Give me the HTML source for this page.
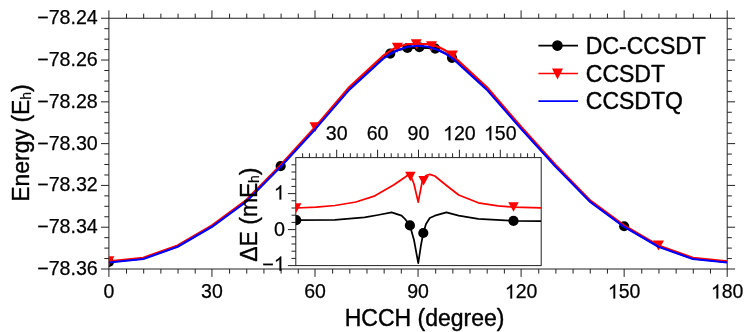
<!DOCTYPE html>
<html><head><meta charset="utf-8"><title>chart</title>
<style>html,body{margin:0;padding:0;background:#fff;}body{width:747px;height:332px;position:relative;overflow:hidden;font-family:"Liberation Sans",sans-serif;}</style>
</head><body>
<svg width="747" height="332" viewBox="0 0 747 332" style="position:absolute;left:0;top:0;will-change:transform">
<defs><clipPath id="cm"><rect x="108.90" y="18.25" width="618.30" height="250.75"/></clipPath>
<clipPath id="ci"><rect x="295.80" y="157.60" width="245.40" height="108.00"/></clipPath></defs>
<g stroke="#222" stroke-width="1" fill="none">
<rect x="108.90" y="18.25" width="618.30" height="250.75"/>
<path d="M108.90 269.00v7.90M108.90 18.25v-7.90M126.53 269.00v4.60M126.53 18.25v-4.60M143.70 269.00v4.60M143.70 18.25v-4.60M160.88 269.00v4.60M160.88 18.25v-4.60M178.05 269.00v4.60M178.05 18.25v-4.60M195.23 269.00v4.60M195.23 18.25v-4.60M211.95 269.00v7.90M211.95 18.25v-7.90M229.58 269.00v4.60M229.58 18.25v-4.60M246.75 269.00v4.60M246.75 18.25v-4.60M263.93 269.00v4.60M263.93 18.25v-4.60M281.10 269.00v4.60M281.10 18.25v-4.60M298.28 269.00v4.60M298.28 18.25v-4.60M315.00 269.00v7.90M315.00 18.25v-7.90M332.63 269.00v4.60M332.63 18.25v-4.60M349.80 269.00v4.60M349.80 18.25v-4.60M366.98 269.00v4.60M366.98 18.25v-4.60M384.15 269.00v4.60M384.15 18.25v-4.60M401.32 269.00v4.60M401.32 18.25v-4.60M418.05 269.00v7.90M418.05 18.25v-7.90M435.68 269.00v4.60M435.68 18.25v-4.60M452.85 269.00v4.60M452.85 18.25v-4.60M470.03 269.00v4.60M470.03 18.25v-4.60M487.20 269.00v4.60M487.20 18.25v-4.60M504.38 269.00v4.60M504.38 18.25v-4.60M521.10 269.00v7.90M521.10 18.25v-7.90M538.73 269.00v4.60M538.73 18.25v-4.60M555.90 269.00v4.60M555.90 18.25v-4.60M573.08 269.00v4.60M573.08 18.25v-4.60M590.25 269.00v4.60M590.25 18.25v-4.60M607.43 269.00v4.60M607.43 18.25v-4.60M624.15 269.00v7.90M624.15 18.25v-7.90M641.78 269.00v4.60M641.78 18.25v-4.60M658.95 269.00v4.60M658.95 18.25v-4.60M676.13 269.00v4.60M676.13 18.25v-4.60M693.30 269.00v4.60M693.30 18.25v-4.60M710.48 269.00v4.60M710.48 18.25v-4.60M727.20 269.00v7.90M727.20 18.25v-7.90M108.90 18.25h-7.90M727.20 18.25h7.90M108.90 28.70h-4.60M727.20 28.70h4.60M108.90 39.15h-4.60M727.20 39.15h4.60M108.90 49.59h-4.60M727.20 49.59h4.60M108.90 60.04h-7.90M727.20 60.04h7.90M108.90 70.49h-4.60M727.20 70.49h4.60M108.90 80.94h-4.60M727.20 80.94h4.60M108.90 91.39h-4.60M727.20 91.39h4.60M108.90 101.83h-7.90M727.20 101.83h7.90M108.90 112.28h-4.60M727.20 112.28h4.60M108.90 122.73h-4.60M727.20 122.73h4.60M108.90 133.18h-4.60M727.20 133.18h4.60M108.90 143.62h-7.90M727.20 143.62h7.90M108.90 154.07h-4.60M727.20 154.07h4.60M108.90 164.52h-4.60M727.20 164.52h4.60M108.90 174.97h-4.60M727.20 174.97h4.60M108.90 185.42h-7.90M727.20 185.42h7.90M108.90 195.86h-4.60M727.20 195.86h4.60M108.90 206.31h-4.60M727.20 206.31h4.60M108.90 216.76h-4.60M727.20 216.76h4.60M108.90 227.21h-7.90M727.20 227.21h7.90M108.90 237.66h-4.60M727.20 237.66h4.60M108.90 248.10h-4.60M727.20 248.10h4.60M108.90 258.55h-4.60M727.20 258.55h4.60M108.90 269.00h-7.90M727.20 269.00h7.90"/>
</g>
<g clip-path="url(#cm)" fill="none" stroke-linejoin="round">
<path d="M108.90 261.99L143.25 258.48L177.60 246.27L211.95 226.26L246.30 200.98L280.65 166.11L315.00 128.57L349.35 88.64L383.70 57.61L390.57 53.39L397.44 50.20L407.75 47.84L418.05 47.56L428.36 47.84L438.66 50.20L445.53 53.39L452.40 57.61L486.75 88.64L521.10 128.07L555.45 165.81L589.80 200.98L624.15 226.26L658.50 246.27L692.85 258.48L727.20 261.99" stroke="#000" stroke-width="2.15"/>
<circle cx="108.90" cy="261.99" r="5.10" fill="#000"/>
<circle cx="280.65" cy="166.11" r="5.10" fill="#000"/>
<circle cx="624.15" cy="226.26" r="5.10" fill="#000"/>
<circle cx="390.20" cy="53.60" r="5.10" fill="#000"/>
<circle cx="407.45" cy="48.00" r="5.10" fill="#000"/>
<circle cx="419.40" cy="47.25" r="5.10" fill="#000"/>
<circle cx="435.20" cy="48.60" r="5.10" fill="#000"/>
<circle cx="452.00" cy="57.85" r="5.10" fill="#000"/>
<path d="M108.90 261.25L143.25 257.73L177.60 245.48L211.95 225.40L246.30 200.05L280.65 165.02L315.00 127.31L349.35 87.05L383.70 55.27L390.57 50.57L397.44 46.96L407.75 44.08L418.05 44.03L428.36 44.08L438.66 46.96L445.53 50.57L452.40 55.27L486.75 87.05L521.10 126.81L555.45 164.72L589.80 200.05L624.15 225.40L658.50 245.48L692.85 257.73L727.20 261.25" stroke="#ff0000" stroke-width="2.15"/>
<path d="M103.40 256.25h11.00l-5.50 10.00z" fill="#ff0000" stroke="none"/>
<path d="M309.50 122.31h11.00l-5.50 10.00z" fill="#ff0000" stroke="none"/>
<path d="M653.00 240.48h11.00l-5.50 10.00z" fill="#ff0000" stroke="none"/>
<path d="M391.90 42.80h11.00l-5.50 10.00z" fill="#ff0000" stroke="none"/>
<path d="M410.80 39.30h11.00l-5.50 10.00z" fill="#ff0000" stroke="none"/>
<path d="M426.00 41.20h11.00l-5.50 10.00z" fill="#ff0000" stroke="none"/>
<path d="M446.90 50.60h11.00l-5.50 10.00z" fill="#ff0000" stroke="none"/>
<path d="M108.90 262.50L143.25 259.00L177.60 246.80L211.95 226.80L246.30 201.60L280.65 166.80L315.00 129.40L349.35 89.60L383.70 58.30L390.57 53.70L397.44 50.20L407.75 46.80L418.05 45.70L428.36 46.80L438.66 50.20L445.53 53.70L452.40 58.30L486.75 89.60L521.10 128.90L555.45 166.50L589.80 201.60L624.15 226.80L658.50 246.80L692.85 259.00L727.20 262.50" stroke="#0000ff" stroke-width="2.15"/>
</g>
<rect x="295.80" y="157.60" width="245.40" height="108.00" fill="#fff" stroke="none"/>
<g stroke="#222" stroke-width="1" fill="none">
<rect x="295.80" y="157.60" width="245.40" height="108.00"/>
<path d="M302.62 157.60v-4.30M309.43 157.60v-4.30M316.25 157.60v-4.30M323.07 157.60v-4.30M329.88 157.60v-4.30M336.70 157.60v-7.90M343.52 157.60v-4.30M350.33 157.60v-4.30M357.15 157.60v-4.30M363.97 157.60v-4.30M370.78 157.60v-4.30M377.60 157.60v-7.90M384.42 157.60v-4.30M391.23 157.60v-4.30M398.05 157.60v-4.30M404.87 157.60v-4.30M411.68 157.60v-4.30M418.50 157.60v-7.90M425.32 157.60v-4.30M432.13 157.60v-4.30M438.95 157.60v-4.30M445.77 157.60v-4.30M452.58 157.60v-4.30M459.40 157.60v-7.90M466.22 157.60v-4.30M473.03 157.60v-4.30M479.85 157.60v-4.30M486.67 157.60v-4.30M493.48 157.60v-4.30M500.30 157.60v-7.90M507.12 157.60v-4.30M513.93 157.60v-4.30M520.75 157.60v-4.30M527.57 157.60v-4.30M534.38 157.60v-4.30M295.80 164.80h-4.30M295.80 172.00h-4.30M295.80 179.20h-4.30M295.80 186.40h-4.30M295.80 193.60h-7.90M295.80 200.80h-4.30M295.80 208.00h-4.30M295.80 215.20h-4.30M295.80 222.40h-4.30M295.80 229.60h-7.90M295.80 236.80h-4.30M295.80 244.00h-4.30M295.80 251.20h-4.30M295.80 258.40h-4.30M295.80 265.60h-7.90"/>
</g>
<g clip-path="url(#ci)" fill="none" stroke-linejoin="round">
<path d="M296.20 220.20L335.00 219.80L364.50 217.40L378.00 215.00L391.60 212.40L401.60 215.70L405.60 219.70L409.90 225.40L414.00 240.00L418.25 263.20L421.00 245.00L423.30 233.00L426.00 224.00L429.80 218.00L434.80 215.70L446.40 212.40L458.70 215.70L478.20 218.90L513.50 220.80L541.20 221.20" stroke="#000" stroke-width="1.75"/>
<circle cx="296.20" cy="220.20" r="5.10" fill="#000"/>
<circle cx="409.90" cy="225.40" r="5.10" fill="#000"/>
<circle cx="423.30" cy="233.00" r="5.10" fill="#000"/>
<circle cx="513.50" cy="220.80" r="5.10" fill="#000"/>
<path d="M296.20 208.00L316.00 207.20L335.00 205.50L355.90 202.00L374.90 195.80L394.00 184.80L405.30 177.00L409.90 173.50L414.00 184.00L418.20 202.10L422.50 180.00L426.00 175.50L429.80 174.30L434.80 176.00L446.20 185.20L458.70 195.00L478.20 202.80L497.80 205.90L513.50 207.10L541.20 207.90" stroke="#ff0000" stroke-width="1.75"/>
<path d="M290.95 203.25h10.50l-5.25 9.50z" fill="#ff0000" stroke="none"/>
<path d="M405.15 171.65h10.50l-5.25 9.50z" fill="#ff0000" stroke="none"/>
<path d="M418.35 176.05h10.50l-5.25 9.50z" fill="#ff0000" stroke="none"/>
<path d="M508.25 202.35h10.50l-5.25 9.50z" fill="#ff0000" stroke="none"/>
</g>
<g fill="none" stroke-width="1.6">
<path d="M538.4 45.6H578" stroke="#000"/>
<path d="M538.4 73.5H578" stroke="#ff0000"/>
<path d="M538.4 101.1H578" stroke="#0000ff"/>
</g>
<circle cx="557.40" cy="45.60" r="5.30" fill="#000"/>
<path d="M552.00 68.50h11.00l-5.50 11.00z" fill="#ff0000" stroke="none"/>
<g font-family="Liberation Sans, sans-serif" fill="#000" stroke="#000" stroke-width="0.25" stroke-linejoin="round">
<text x="97.8" y="23.75" font-size="19.65" text-anchor="end">−78.24</text>
<text x="97.8" y="65.68" font-size="19.65" text-anchor="end">−78.26</text>
<text x="97.8" y="107.61" font-size="19.65" text-anchor="end">−78.28</text>
<text x="97.8" y="149.54" font-size="19.65" text-anchor="end">−78.30</text>
<text x="97.8" y="191.48" font-size="19.65" text-anchor="end">−78.32</text>
<text x="97.8" y="233.41" font-size="19.65" text-anchor="end">−78.34</text>
<text x="97.8" y="275.34" font-size="19.65" text-anchor="end">−78.36</text>
<text x="103.48" y="298.40" font-size="19.5">0</text>
<text x="201.11" y="298.40" font-size="19.5">30</text>
<text x="304.16" y="298.40" font-size="19.5">60</text>
<text x="407.21" y="298.40" font-size="19.5">90</text>
<path d="M512.10 298.40 L510.38 298.40 L510.38 287.48 Q509.76 288.07 508.76 288.66 Q507.76 289.25 506.96 289.55 L506.96 287.89 Q508.39 287.21 509.47 286.25 Q510.55 285.29 510.99 284.38 L512.10 284.38 Z" stroke-width="0.25"/><text x="515.68" y="298.40" font-size="19.5">20</text>
<path d="M615.15 298.40 L613.43 298.40 L613.43 287.48 Q612.81 288.07 611.81 288.66 Q610.81 289.25 610.01 289.55 L610.01 287.89 Q611.44 287.21 612.52 286.25 Q613.60 285.29 614.04 284.38 L615.15 284.38 Z" stroke-width="0.25"/><text x="618.73" y="298.40" font-size="19.5">50</text>
<path d="M718.20 298.40 L716.48 298.40 L716.48 287.48 Q715.86 288.07 714.86 288.66 Q713.86 289.25 713.06 289.55 L713.06 287.89 Q714.49 287.21 715.57 286.25 Q716.65 285.29 717.09 284.38 L718.20 284.38 Z" stroke-width="0.25"/><text x="721.78" y="298.40" font-size="19.5">80</text>
<text x="325.80" y="140.20" font-size="19.6">30</text>
<text x="366.70" y="140.20" font-size="19.6">60</text>
<text x="407.60" y="140.20" font-size="19.6">90</text>
<path d="M450.35 140.20 L448.63 140.20 L448.63 129.22 Q448.01 129.82 447.00 130.41 Q445.99 131.00 445.18 131.30 L445.18 129.63 Q446.63 128.95 447.71 127.99 Q448.79 127.02 449.24 126.11 L450.35 126.11 Z" stroke-width="0.25"/><text x="453.95" y="140.20" font-size="19.6">20</text>
<path d="M491.25 140.20 L489.53 140.20 L489.53 129.22 Q488.91 129.82 487.90 130.41 Q486.89 131.00 486.08 131.30 L486.08 129.63 Q487.53 128.95 488.61 127.99 Q489.69 127.02 490.14 126.11 L491.25 126.11 Z" stroke-width="0.25"/><text x="494.85" y="140.20" font-size="19.6">50</text>
<path d="M281.26 199.60 L279.52 199.60 L279.52 188.51 Q278.90 189.11 277.88 189.71 Q276.86 190.31 276.04 190.61 L276.04 188.93 Q277.50 188.24 278.60 187.26 Q279.69 186.29 280.14 185.37 L281.26 185.37 Z" stroke-width="0.25"/>
<text x="273.89" y="235.60" font-size="19.8">0</text>
<text x="262.33" y="270.70" font-size="19.8">−</text><path d="M281.26 270.70 L279.52 270.70 L279.52 259.61 Q278.90 260.21 277.88 260.81 Q276.86 261.41 276.04 261.71 L276.04 260.03 Q277.50 259.34 278.60 258.36 Q279.69 257.39 280.14 256.47 L281.26 256.47 Z" stroke-width="0.25"/>
<g stroke-width="0.4">
<text x="585.8" y="53.6" font-size="23.0">DC-CCSDT</text>
<text x="585.8" y="81.7" font-size="23.0">CCSDT</text>
<text x="585.8" y="109.2" font-size="23.0">CCSDTQ</text>
<text x="424.6" y="326.4" font-size="23.0" text-anchor="middle">HCCH (degree)</text>
<text transform="translate(29.2 143.1) rotate(-90)" font-size="23.0" text-anchor="middle">Energy (E<tspan font-size="14" dy="1.9" dx="-0.3" stroke-width="0.2">h</tspan><tspan dy="-1.9">)</tspan></text>
<text transform="translate(256.9 214.7) rotate(-90)" font-size="23.0" text-anchor="middle">ΔE (mE<tspan font-size="14" dy="1.9" dx="-0.4" stroke-width="0.2">h</tspan><tspan dy="-1.9">)</tspan></text>
</g>
</g>
</svg>
</body></html>
